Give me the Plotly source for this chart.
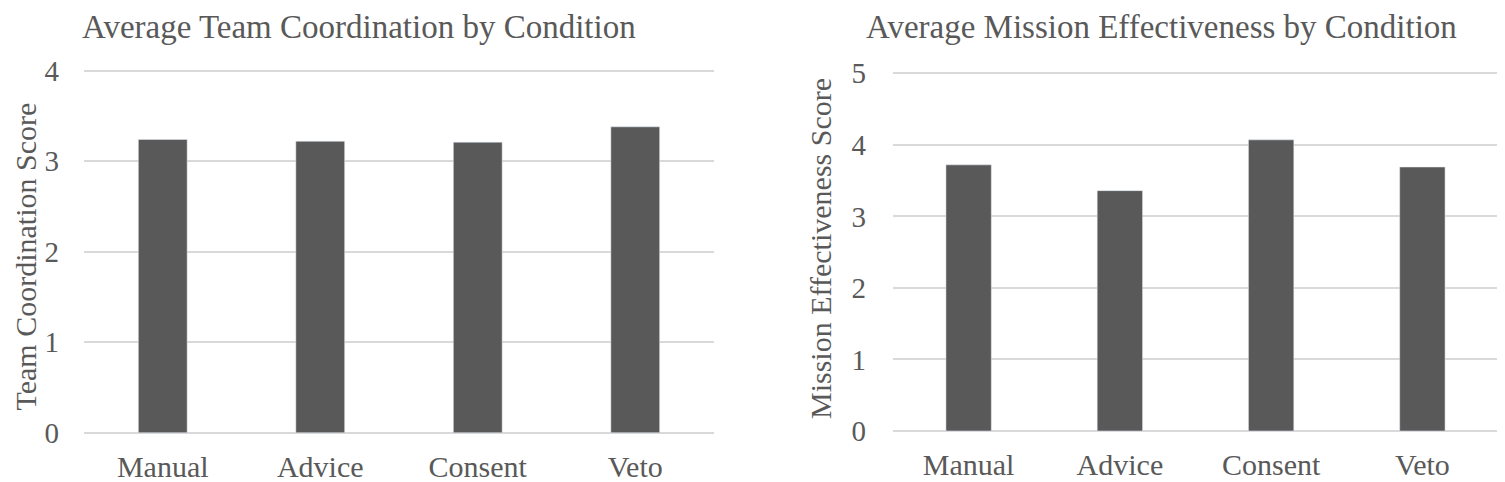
import plotly.graph_objects as go

categories = ["Manual", "Advice", "Consent", "Veto"]
coordination = [3.24, 3.22, 3.21, 3.38]
effectiveness = [3.72, 3.36, 4.07, 3.69]

W, H = 1505, 482
OFF = 8  # page body margin offset
BAR = "#595959"
TXT = "#595959"
GRID = "#d9d9d9"
FONT = "Liberation Serif"

def px_x(p):
    return (p - OFF) / W

def px_y(p):
    return (H - (p - OFF)) / H

fig = go.Figure()
fig.add_trace(go.Bar(x=categories, y=coordination, marker_color=BAR, width=0.31,
                     xaxis="x", yaxis="y", showlegend=False))
fig.add_trace(go.Bar(x=categories, y=effectiveness, marker_color=BAR, width=0.30,
                     xaxis="x2", yaxis="y2", showlegend=False))

def xax(domain, anchor):
    return dict(domain=domain, anchor=anchor, showgrid=False, zeroline=False, showline=False,
                ticks="", automargin=False,
                tickfont=dict(family=FONT, size=30, color=TXT), ticklabelstandoff=12)

def yax(domain, anchor, rng, standoff):
    return dict(domain=domain, anchor=anchor, range=rng, showgrid=True, gridcolor=GRID,
                gridwidth=1.5, zeroline=False, showline=False, ticks="", automargin=False,
                tickfont=dict(family=FONT, size=29, color=TXT), ticklabelstandoff=standoff,
                tick0=0, dtick=1)

eps1 = 0.012
eps2 = 0.015
u1 = (432.7 - 70.7) / 4
u2 = (431 - 73.3) / 5

fig.update_layout(
    width=W, height=H,
    margin=dict(l=0, r=0, t=0, b=0),
    paper_bgcolor="white", plot_bgcolor="white",
    bargap=0.7,
    xaxis=xax([px_x(84), px_x(714)], "y"),
    yaxis=yax([px_y(432.7 + eps1 * u1), px_y(70.7 - eps1 * u1)], "x", [-eps1, 4 + eps1], 24),
    xaxis2=xax([px_x(893), px_x(1498)], "y2"),
    yaxis2=yax([px_y(431 + eps2 * u2), px_y(73.3 - eps2 * u2)], "x2", [-eps2, 5 + eps2], 26),
    annotations=[
        dict(text="Average Team Coordination by Condition", x=px_x(81), y=1.0,
             xref="paper", yref="paper", xanchor="left", yanchor="top", showarrow=False,
             borderpad=0, font=dict(family=FONT, size=33, color=TXT)),
        dict(text="Average Mission Effectiveness by Condition", x=px_x(865), y=1.0,
             xref="paper", yref="paper", xanchor="left", yanchor="top", showarrow=False,
             borderpad=0, font=dict(family=FONT, size=33, color=TXT)),
        dict(text="Team Coordination Score", x=0.0, y=px_y(257), textangle=-90,
             xref="paper", yref="paper", xanchor="left", yanchor="middle", showarrow=False,
             borderpad=0, font=dict(family=FONT, size=30, color=TXT)),
        dict(text="Mission Effectiveness Score", x=px_x(820), y=px_y(249), textangle=-90,
             xref="paper", yref="paper", xanchor="center", yanchor="middle", showarrow=False,
             font=dict(family=FONT, size=30, color=TXT)),
    ],
)

fig.write_html("out.html")
